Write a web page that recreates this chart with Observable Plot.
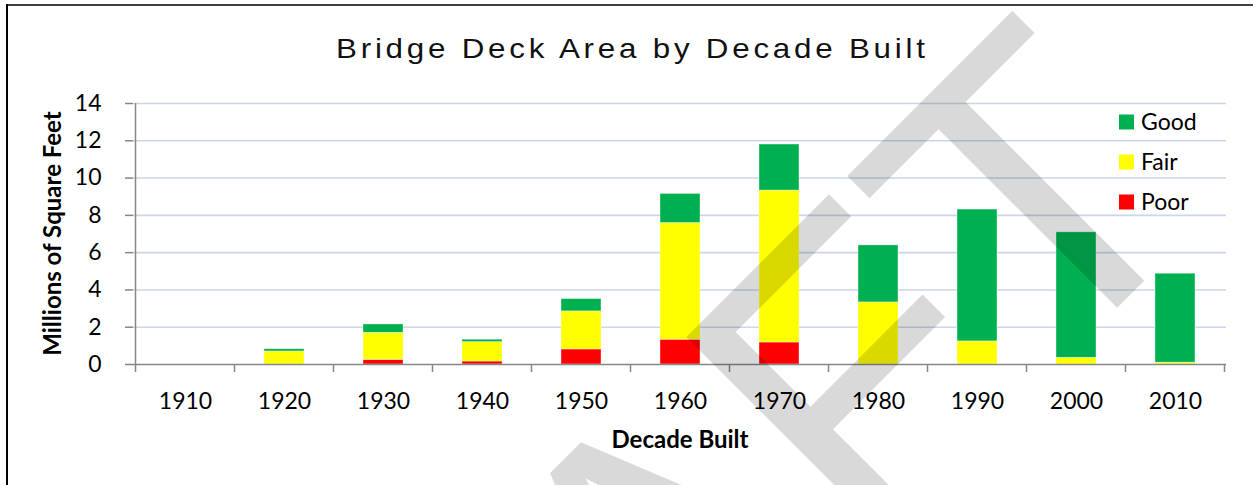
<!DOCTYPE html>
<html><head><meta charset="utf-8">
<script src="https://cdn.jsdelivr.net/npm/d3@7"></script>
<script src="https://cdn.jsdelivr.net/npm/@observablehq/plot@0.6"></script>
<style>body{margin:0;background:#fff}</style>
</head><body><div id="chart"></div>
<script>
const decades = ["1910","1920","1930","1940","1950","1960","1970","1980","1990","2000","2010"];
const poor = [0, 0, 0.25, 0.16, 0.81, 1.33, 1.18, 0, 0, 0, 0];
const fair = [0, 0.70, 1.45, 1.04, 2.04, 6.26, 8.15, 3.33, 1.24, 0.36, 0.10];
const good = [0, 0.12, 0.45, 0.13, 0.66, 1.56, 2.47, 3.06, 7.07, 6.73, 4.77];
const conditions = ["Good", "Fair", "Poor"];
const colors = ["#00B050", "#FFFF00", "#FF0000"];
const yTicks = [0, 2, 4, 6, 8, 10, 12, 14];
const title = "Bridge Deck Area by Decade Built";
const xLabel = "Decade Built";
const yLabel = "Millions of Square Feet";
const watermark = "DRAFT";

const series = {Poor: poor, Fair: fair, Good: good};
const data = decades.flatMap((d, i) => ["Poor", "Fair", "Good"].map(c => ({decade: d, condition: c, value: series[c][i]})));

const W = 1253, H = 485;
const axisGrey = "#878787";
const plot = Plot.plot({
  width: W, height: H,
  marginLeft: 133, marginRight: 27, marginTop: 103, marginBottom: 121,
  style: {fontFamily: "Lato, 'Open Sans', sans-serif", fontSize: "23px", color: "#000", background: "#fff", overflow: "visible"},
  x: {domain: decades, paddingInner: 0.6, paddingOuter: 0.3, label: null},
  y: {domain: [0, 14], label: null},
  color: {domain: conditions, range: colors},
  marks: [
    Plot.gridY(yTicks.slice(1), {stroke: "#CAD7E9", strokeOpacity: 1, strokeWidth: 1.6}),
    Plot.barY(data, {x: "decade", y: "value", fill: "condition", order: ["Poor", "Fair", "Good"], stroke: "#fff", strokeOpacity: 0.5, strokeWidth: 0.75}),
    Plot.ruleY([0], {stroke: axisGrey, strokeWidth: 1.5}),
    Plot.axisY(yTicks, {tickSize: 8, tickPadding: 24, stroke: axisGrey, strokeWidth: 1.5, fill: "#000", label: null, fontSize: 23}),
    Plot.axisX({tickSize: 0, tickPadding: 28, label: null, fill: "#000", fontSize: 23})
  ]
});
document.getElementById("chart").appendChild(plot);

const svg = d3.select(plot);
const xs = plot.scale("x"), ys = plot.scale("y");
const step = xs.step, bw = xs.bandwidth;
const bounds = decades.map(d => xs.apply(d) - (step - bw) / 2);
bounds.push(bounds[bounds.length - 1] + step);
const y0 = ys.apply(0), yTop = ys.apply(14);

// y axis line
svg.append("line").attr("x1", bounds[0]).attr("x2", bounds[0]).attr("y1", yTop).attr("y2", y0)
  .attr("stroke", axisGrey).attr("stroke-width", 1.5);
// category boundary ticks
svg.append("g").selectAll("line").data(bounds).join("line")
  .attr("x1", d => d).attr("x2", d => d).attr("y1", y0).attr("y2", y0 + 8)
  .attr("stroke", axisGrey).attr("stroke-width", 1.5);

// title (horizontally stretched like the reference)
const sx = 1.12;
svg.append("text").attr("transform", `translate(336,58) scale(${sx},1)`).attr("x", 0).attr("y", 0)
  .attr("text-anchor", "start")
  .attr("font-family", "'Liberation Sans', Arial, sans-serif").attr("font-size", 28)
  .attr("textLength", 589 / sx).attr("lengthAdjust", "spacing").attr("fill", "#111").text(title);

// axis labels
const cx = (bounds[0] + bounds[bounds.length - 1]) / 2;
svg.append("text").attr("x", cx).attr("y", 448).attr("text-anchor", "middle")
  .attr("font-family", "Lato, sans-serif").attr("font-weight", "bold").attr("font-size", 24).text(xLabel);
svg.append("text").attr("transform", `translate(61,${(y0 + yTop) / 2}) rotate(-90)`).attr("text-anchor", "middle")
  .attr("font-family", "Lato, sans-serif").attr("font-weight", "bold").attr("font-size", 24).text(yLabel);

// legend
const lg = svg.append("g");
conditions.forEach((c, i) => {
  const cy = 122 + i * 40;
  lg.append("rect").attr("x", 1119).attr("y", cy - 7.5).attr("width", 15).attr("height", 15).attr("fill", colors[i]);
  lg.append("text").attr("x", 1141).attr("y", cy).attr("dy", "0.35em").attr("text-anchor", "start")
    .attr("font-family", "Lato, sans-serif").attr("font-size", 23).text(c);
});

// border
svg.append("line").attr("x1", 6).attr("x2", W).attr("y1", 5).attr("y2", 5).attr("stroke", "#000").attr("stroke-width", 1.5);
svg.append("line").attr("x1", 7).attr("x2", 7).attr("y1", 4.3).attr("y2", H).attr("stroke", "#000").attr("stroke-width", 2);

// watermark
svg.append("text").attr("transform", "translate(1220,205) rotate(-45)").attr("text-anchor", "end")
  .attr("font-family", "'Liberation Sans', Arial, sans-serif").attr("font-size", 413)
  .attr("fill", "#000").attr("fill-opacity", 0.15).text(watermark);
</script>
</body></html>
